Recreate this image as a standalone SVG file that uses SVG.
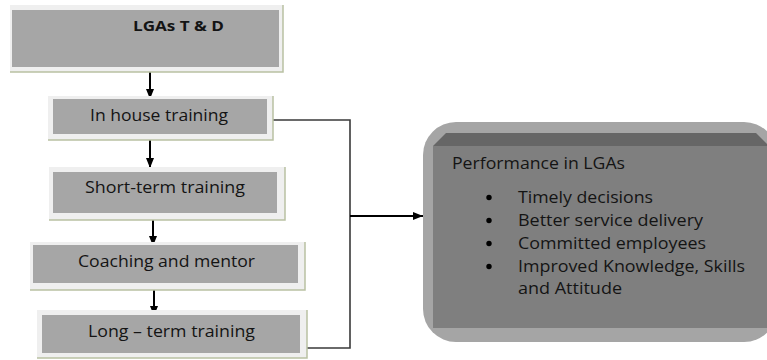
<svg xmlns="http://www.w3.org/2000/svg" width="767" height="360" viewBox="0 0 767 360">
<defs>
<style>
.frame{fill:#efefef}
.shadow{fill:none;stroke:#b9c1a3;stroke-width:1.5}
.box{fill:#a6a6a6}
.lbl{font-family:"Open Sans","Noto Sans","Liberation Sans",sans-serif;font-size:16px;fill:#141414}
.bold{font-weight:bold;font-size:13.5px}
.flow{stroke:#000;stroke-width:2;fill:none}
.link{stroke:#3a3a3a;stroke-width:1.6;fill:none}
.bullet{fill:#000}
</style>
<marker id="ah" markerUnits="userSpaceOnUse" markerWidth="10" markerHeight="10" viewBox="0 0 10 10" refX="10" refY="5" orient="auto"><path d="M0,1 L10,5 L0,9 Z" fill="#000"/></marker>
</defs>
<rect width="767" height="360" fill="#fff"/>

<g id="connectors">
<line class="flow" x1="150" y1="72" x2="150" y2="99" marker-end="url(#ah)"/>
<line class="flow" x1="150" y1="140" x2="150" y2="168" marker-end="url(#ah)"/>
<line class="flow" x1="153" y1="220" x2="153" y2="246" marker-end="url(#ah)"/>
<line class="flow" x1="154" y1="290" x2="154" y2="316" marker-end="url(#ah)"/>
<polyline class="link" points="273,120 350,120 350,348 307,348"/>
<line class="flow" x1="350" y1="216" x2="423" y2="216" marker-end="url(#ah)"/>
</g>

<g id="lgas-td">
<rect class="frame" x="10" y="5" width="273" height="67"/>
<path class="shadow" d="M283,5 V72 H10"/>
<rect class="box" x="12" y="10" width="267" height="57"/>
<text class="lbl bold" x="133" y="30.5" textLength="91" lengthAdjust="spacingAndGlyphs">LGAs T &amp; D</text>
</g>

<g id="in-house">
<rect class="frame" x="48" y="96" width="225" height="44"/>
<path class="shadow" d="M273,96 V140 H48"/>
<rect class="box" x="53" y="99" width="214" height="35"/>
<text class="lbl" x="90" y="121" textLength="138" lengthAdjust="spacingAndGlyphs">In house training</text>
</g>

<g id="short-term">
<rect class="frame" x="49" y="167" width="236" height="53"/>
<path class="shadow" d="M285,167 V220 H49"/>
<rect class="box" x="53" y="172" width="224" height="41"/>
<text class="lbl" x="85" y="193" textLength="160" lengthAdjust="spacingAndGlyphs">Short-term training</text>
</g>

<g id="coaching">
<rect class="frame" x="30" y="242" width="275" height="48"/>
<path class="shadow" d="M305,242 V290 H30"/>
<rect class="box" x="33" y="245" width="265" height="38"/>
<text class="lbl" x="78" y="267" textLength="177" lengthAdjust="spacingAndGlyphs">Coaching and mentor</text>
</g>

<g id="long-term">
<rect class="frame" x="37" y="310" width="270" height="48"/>
<path class="shadow" d="M307,310 V358 H37"/>
<rect class="box" x="42" y="315" width="258" height="38"/>
<text class="lbl" x="88" y="337" textLength="167" lengthAdjust="spacingAndGlyphs">Long – term training</text>
</g>

<g id="performance">
<rect x="423" y="122" width="354" height="220" rx="33" fill="#a5a5a5"/>
<rect x="433" y="146" width="340" height="182" fill="#7f7f7f"/>
<polygon points="433,146 446,133 756,133 769,146" fill="#666"/>
<text class="lbl" x="452" y="169" textLength="173" lengthAdjust="spacingAndGlyphs">Performance in LGAs</text>
<circle class="bullet" cx="489" cy="197.5" r="2.7"/>
<text class="lbl" x="518" y="203" textLength="135" lengthAdjust="spacingAndGlyphs">Timely decisions</text>
<circle class="bullet" cx="489" cy="220.5" r="2.7"/>
<text class="lbl" x="518" y="226" textLength="185" lengthAdjust="spacingAndGlyphs">Better service delivery</text>
<circle class="bullet" cx="489" cy="243.5" r="2.7"/>
<text class="lbl" x="518" y="249" textLength="188" lengthAdjust="spacingAndGlyphs">Committed employees</text>
<circle class="bullet" cx="489" cy="266.5" r="2.7"/>
<text class="lbl" x="518" y="272" textLength="227" lengthAdjust="spacingAndGlyphs">Improved Knowledge, Skills</text>
<text class="lbl" x="518" y="294" textLength="104" lengthAdjust="spacingAndGlyphs">and Attitude</text>
</g>
</svg>
